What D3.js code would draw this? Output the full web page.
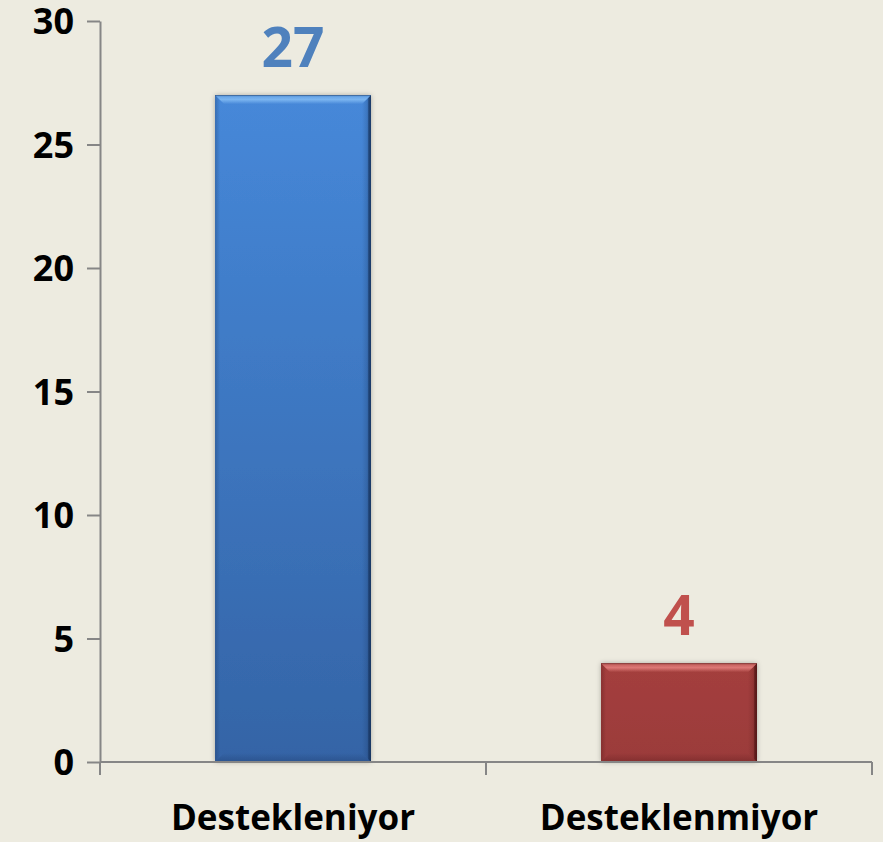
<!DOCTYPE html>
<html><head><meta charset="utf-8">
<script src="https://cdn.jsdelivr.net/npm/d3@7"></script>
<style>
html,body{margin:0;padding:0;background:#EDEBE0;}
svg{display:block;}
</style></head>
<body>
<script>
const categories = ["Destekleniyor", "Desteklenmiyor"];
const values = [27, 4];
const yTicks = [0, 5, 10, 15, 20, 25, 30];
const barColors = [
  {top:"#4688D9", bottom:"#3464A6", hi:"#8CC4F8", dark:"#142F57", label:"#4F81BD"},
  {top:"#A43F3E", bottom:"#9B3B3A", hi:"#F08C8A", dark:"#4A1212", label:"#C0504D"}
];

const W = 883, H = 842;
const m = {left:100, right:11, top:21, bottom:80};
const svg = d3.select("body").append("svg").attr("width", W).attr("height", H);
svg.append("rect").attr("width", W).attr("height", H).attr("fill", "#EDEBE0");

const defs = svg.append("defs");
const f = defs.append("filter").attr("id","sh").attr("x","-20%").attr("y","-20%").attr("width","140%").attr("height","140%");
f.append("feDropShadow").attr("dx",0).attr("dy",0).attr("stdDeviation",2.5).attr("flood-color","#000").attr("flood-opacity",0.28);
function grad(id, x2, y2, stops){
  const g = defs.append("linearGradient").attr("id",id).attr("x1",0).attr("y1",0).attr("x2",x2).attr("y2",y2);
  stops.forEach(s=>g.append("stop").attr("offset",s[0]).attr("stop-color",s[1]).attr("stop-opacity",s[2]));
}
barColors.forEach((c,i)=>{
  grad("g"+i,0,1,[["0%",c.top,1],["100%",c.bottom,1]]);
  grad("top"+i,0,1,[["0%",c.hi,0.35],["50%",c.hi,0.75],["100%",c.hi,0]]);
  grad("right"+i,1,0,[["0%",c.dark,0],["60%",c.dark,0.2],["75%",c.dark,0.7],["100%",c.dark,0.9]]);
  grad("bot"+i,0,1,[["0%",c.dark,0],["100%",c.dark,0.3]]);
  grad("left"+i,1,0,[["0%",c.dark,0.3],["100%",c.dark,0]]);
});

const x = d3.scaleBand().domain(categories).range([m.left, W - m.right]).paddingInner(0.596).paddingOuter(0.298);
const y = d3.scaleLinear().domain([0, 30]).range([H - m.bottom, m.top]);

// bars
const bars = svg.append("g").selectAll("g").data(values).join("g");
bars.append("rect")
  .attr("x", (d,i)=>x(categories[i])).attr("y", d=>y(d))
  .attr("width", x.bandwidth()).attr("height", d=>y(0)-y(d))
  .attr("fill", (d,i)=>`url(#g${i})`).attr("filter","url(#sh)");
const bv = 9;
// bottom dark edge
bars.append("path").attr("d",(d,i)=>{
  const x0=x(categories[i]), x1=x0+x.bandwidth(), y1=y(0);
  return `M${x0},${y1}L${x1},${y1}L${x1-bv},${y1-bv}L${x0+bv},${y1-bv}Z`;
}).attr("fill",(d,i)=>`url(#bot${i})`);
// left edge
bars.append("path").attr("d",(d,i)=>{
  const x0=x(categories[i]), y0=y(d), y1=y(0);
  return `M${x0},${y0}L${x0+5},${y0+5}L${x0+5},${y1-5}L${x0},${y1}Z`;
}).attr("fill",(d,i)=>`url(#left${i})`);
// right dark edge
bars.append("path").attr("d",(d,i)=>{
  const x0=x(categories[i]), x1=x0+x.bandwidth(), y0=y(d), y1=y(0);
  return `M${x1},${y0}L${x1},${y1}L${x1-bv},${y1-bv}L${x1-bv},${y0+bv}Z`;
}).attr("fill",(d,i)=>`url(#right${i})`);
// top highlight
bars.append("path").attr("d",(d,i)=>{
  const x0=x(categories[i]), x1=x0+x.bandwidth(), y0=y(d);
  return `M${x0},${y0}L${x1},${y0}L${x1-bv},${y0+bv}L${x0+bv},${y0+bv}Z`;
}).attr("fill",(d,i)=>`url(#top${i})`);
// top thin line
bars.append("line")
  .attr("x1",(d,i)=>x(categories[i])).attr("x2",(d,i)=>x(categories[i])+x.bandwidth())
  .attr("y1",d=>y(d)+0.5).attr("y2",d=>y(d)+0.5)
  .attr("stroke",(d,i)=>barColors[i].dark).attr("stroke-width",1).attr("opacity",0.5);

// value labels
svg.append("g").selectAll("text").data(values).join("text")
  .attr("x",(d,i)=>x(categories[i])+x.bandwidth()/2)
  .attr("y",d=>y(d)-28)
  .attr("text-anchor","middle")
  .attr("font-family","'Open Sans', sans-serif").attr("font-weight",700).attr("font-size",55)
  .attr("fill",(d,i)=>barColors[i].label)
  .text(d=>d);

// y axis
const yAxis = svg.append("g").attr("transform",`translate(${m.left},0)`)
  .call(d3.axisLeft(y).tickValues(yTicks).tickSize(13).tickPadding(13).tickSizeOuter(0));
yAxis.select(".domain").attr("stroke","#868686").attr("stroke-width",2);
yAxis.selectAll(".tick line").attr("stroke","#868686").attr("stroke-width",2);
yAxis.selectAll(".tick text").attr("font-family","'Open Sans', sans-serif").attr("font-weight",700)
  .attr("font-size",36).attr("fill","#000").attr("dy","0.36em");

// x axis
const xEdge = d3.scaleLinear().domain([0, categories.length]).range([m.left, W - m.right]);
const xAxis = svg.append("g").attr("transform",`translate(0,${y(0)})`);
xAxis.append("line").attr("x1",m.left).attr("x2",W-m.right).attr("stroke","#868686").attr("stroke-width",2);
xAxis.selectAll("line.t").data(d3.range(categories.length+1)).join("line").attr("class","t")
  .attr("x1",d=>xEdge(d)).attr("x2",d=>xEdge(d)).attr("y1",0).attr("y2",13)
  .attr("stroke","#868686").attr("stroke-width",2);
xAxis.selectAll("text").data(categories).join("text")
  .attr("x",d=>x(d)+x.bandwidth()/2).attr("y",68)
  .attr("text-anchor","middle")
  .attr("font-family","'Open Sans', sans-serif").attr("font-weight",700).attr("font-size",35)
  .attr("fill","#000").text(d=>d);
</script>
</body></html>
